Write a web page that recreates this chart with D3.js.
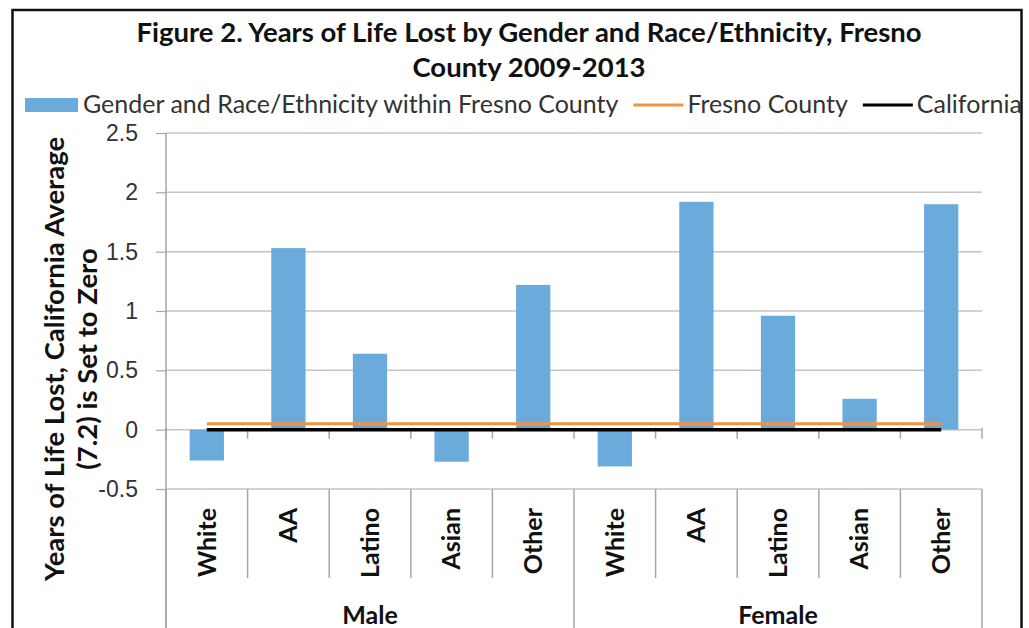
<!doctype html>
<html lang="en">

<head>
  <meta charset="UTF-8">
  <title>Years of Life Lost by Gender and Race/Ethnicity</title>
  <script type="text/javascript" src="https://cdn.jsdelivr.net/npm/d3@7"></script>
  <style>
    body {
      margin: 0;
      background: #fff;
    }

    svg {
      display: block;
      font-family: Lato, "Open Sans", sans-serif;
    }

    .grid line {
      stroke: #c4c4c4;
      stroke-width: 1.5px;
    }

    .y.axis path {
      display: none;
    }

    .y.axis line {
      stroke: #a6a6a6;
      stroke-width: 1.2px;
    }

    .y.axis text {
      font-size: 23px;
      fill: #333;
    }
  </style>
</head>

<body>

</body>
<script type="text/javascript">
  // data
  var groups = ["Male", "Female"];
  var races = ["White", "AA", "Latino", "Asian", "Other"];
  var barValues = [-0.26, 1.53, 0.64, -0.27, 1.22, -0.31, 1.92, 0.96, 0.26, 1.90];
  var fresnoValues = [0.05, 0.05, 0.05, 0.05, 0.05, 0.05, 0.05, 0.05, 0.05, 0.05];
  var californiaValues = [0, 0, 0, 0, 0, 0, 0, 0, 0, 0];
  var yTicks = [-0.5, 0, 0.5, 1, 1.5, 2, 2.5];
  var titleLines = ["Figure 2. Years of Life Lost by Gender and Race/Ethnicity, Fresno", "County 2009-2013"];
  var yTitleLines = ["Years of Life Lost, California Average", "(7.2) is Set to Zero"];
  var legendLabels = ["Gender and Race/Ethnicity within Fresno County", "Fresno County", "California"];

  var W = 1029,
    H = 628;
  var plot = {
    left: 166,
    right: 982,
    top: 133,
    bottom: 489
  };
  var barColor = "#6aabdb",
    orange = "#ef9440";

  // one slot per gender/race pair
  var cats = [];
  groups.forEach(function(g) {
    races.forEach(function(r) {
      cats.push(g + "|" + r);
    });
  });

  var xScale = d3.scaleBand()
    .domain(cats)
    .range([plot.left, plot.right])
    .padding(0);

  var yScale = d3.scaleLinear()
    .domain([-0.5, 2.5])
    .range([plot.bottom, plot.top]);

  var bw = xScale.bandwidth();
  var cx = function(i) {
    return xScale(cats[i]) + bw / 2;
  };

  var svg = d3.select("body").append("svg")
    .attr("width", W)
    .attr("height", H);

  svg.append("rect")
    .attr("width", W).attr("height", H).attr("fill", "#fff");

  // outer frame
  svg.append("rect")
    .attr("x", 12.5).attr("y", 10)
    .attr("width", 1009).attr("height", 700)
    .attr("fill", "none")
    .attr("stroke", "#111")
    .attr("stroke-width", 2.5);

  // title
  svg.append("g").selectAll("text")
    .data(titleLines)
    .enter().append("text")
    .attr("x", 529)
    .attr("y", function(d, i) {
      return 42 + i * 35;
    })
    .attr("text-anchor", "middle")
    .attr("font-size", "27.5px")
    .attr("font-weight", "bold")
    .attr("fill", "#111")
    .text(function(d) {
      return d;
    });

  // legend, laid out left to right
  var legend = svg.append("g");
  var lx = 25,
    ly = 105;
  legendLabels.forEach(function(label, i) {
    if (i === 0) {
      legend.append("rect")
        .attr("x", lx).attr("y", ly - 7)
        .attr("width", 53).attr("height", 14)
        .attr("fill", barColor);
      lx += 58;
    } else {
      legend.append("line")
        .attr("x1", lx).attr("x2", lx + 50)
        .attr("y1", ly).attr("y2", ly)
        .attr("stroke", i === 1 ? orange : "#000")
        .attr("stroke-width", 3);
      lx += 54;
    }
    var t = legend.append("text")
      .attr("x", lx).attr("y", ly + 8)
      .attr("font-size", "25px")
      .attr("fill", "#333")
      .text(label);
    lx += t.node().getComputedTextLength() + 15;
  });

  // horizontal gridlines
  svg.append("g")
    .attr("class", "grid")
    .selectAll("line")
    .data(yTicks)
    .enter().append("line")
    .attr("x1", plot.left).attr("x2", plot.right)
    .attr("y1", function(d) {
      return yScale(d);
    })
    .attr("y2", function(d) {
      return yScale(d);
    });

  // y axis
  var yAxis = d3.axisLeft(yScale)
    .tickValues(yTicks)
    .tickSize(10)
    .tickPadding(18)
    .tickFormat(function(d) {
      return String(d);
    });

  svg.append("g")
    .attr("class", "y axis")
    .attr("transform", "translate(" + plot.left + ",0)")
    .call(yAxis);

  svg.append("line")
    .attr("x1", plot.left).attr("x2", plot.left)
    .attr("y1", plot.top).attr("y2", H + 10)
    .attr("stroke", "#a6a6a6").attr("stroke-width", 1.5);

  // category boundaries: small ticks at zero and separators in the label area
  var bounds = d3.range(cats.length + 1).map(function(k) {
    return plot.left + k * bw;
  });
  var sep = svg.append("g")
    .attr("stroke", "#a6a6a6")
    .attr("stroke-width", 1.5);
  sep.selectAll("line.zt")
    .data(bounds)
    .enter().append("line")
    .attr("class", "zt")
    .attr("x1", function(d) {
      return d;
    })
    .attr("x2", function(d) {
      return d;
    })
    .attr("y1", yScale(0) - 2)
    .attr("y2", yScale(0) + 9);
  sep.selectAll("line.lab")
    .data(bounds)
    .enter().append("line")
    .attr("class", "lab")
    .attr("x1", function(d) {
      return d;
    })
    .attr("x2", function(d) {
      return d;
    })
    .attr("y1", plot.bottom)
    .attr("y2", function(d, k) {
      return k % races.length === 0 ? H + 10 : 578;
    });

  // bars
  svg.append("g")
    .selectAll("rect")
    .data(barValues)
    .enter().append("rect")
    .attr("x", function(d, i) {
      return cx(i) - bw * 0.21;
    })
    .attr("width", bw * 0.42)
    .attr("y", function(d) {
      return yScale(Math.max(0, d));
    })
    .attr("height", function(d) {
      return Math.abs(yScale(d) - yScale(0));
    })
    .attr("fill", barColor);

  // reference lines
  var line = d3.line()
    .x(function(d, i) {
      return cx(i);
    })
    .y(function(d) {
      return yScale(d);
    });

  svg.append("path")
    .datum(fresnoValues)
    .attr("d", line)
    .attr("fill", "none")
    .attr("stroke", orange)
    .attr("stroke-width", 3);

  svg.append("path")
    .datum(californiaValues)
    .attr("d", line)
    .attr("fill", "none")
    .attr("stroke", "#000")
    .attr("stroke-width", 3.5);

  // category labels
  svg.append("g")
    .selectAll("text")
    .data(cats)
    .enter().append("text")
    .attr("transform", function(d, i) {
      return "translate(" + cx(i) + ",508) rotate(-90)";
    })
    .attr("text-anchor", "end")
    .attr("dy", "0.35em")
    .attr("font-size", "25px")
    .attr("font-weight", "bold")
    .attr("fill", "#111")
    .text(function(d) {
      return d.split("|")[1];
    });

  // group labels
  svg.append("g")
    .selectAll("text")
    .data(groups)
    .enter().append("text")
    .attr("x", function(d, g) {
      return (bounds[g * races.length] + bounds[(g + 1) * races.length]) / 2;
    })
    .attr("y", 624)
    .attr("text-anchor", "middle")
    .attr("font-size", "25px")
    .attr("font-weight", "bold")
    .attr("fill", "#111")
    .text(function(d) {
      return d;
    });

  // y axis title
  svg.append("g")
    .selectAll("text")
    .data(yTitleLines)
    .enter().append("text")
    .attr("transform", function(d, i) {
      return "translate(" + (64 + i * 33) + ",359) rotate(-90)";
    })
    .attr("text-anchor", "middle")
    .attr("font-size", "27.5px")
    .attr("font-weight", "bold")
    .attr("fill", "#111")
    .text(function(d) {
      return d;
    });
</script>

</html>
